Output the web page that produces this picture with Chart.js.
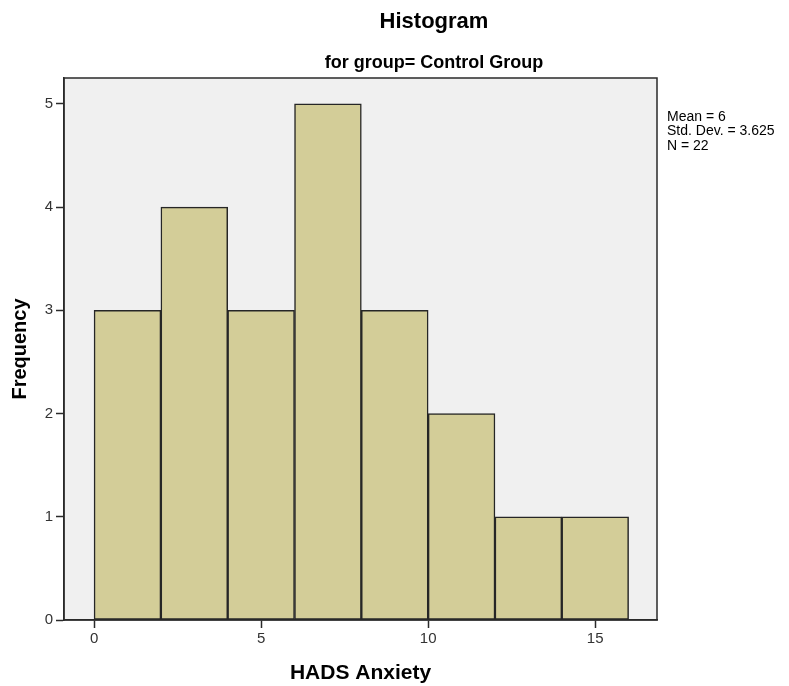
<!DOCTYPE html>
<html>
<head>
<meta charset="utf-8">
<title>Histogram</title>
<script src="https://cdn.jsdelivr.net/npm/chart.js@4.4.0/dist/chart.umd.min.js"></script>
<style>
  html, body { margin: 0; padding: 0; background: #fff; }
  #wrap { width: 789px; height: 686px; position: relative; }
</style>
</head>
<body>
<div id="wrap"><canvas id="hist"></canvas></div>
<script>
// bins of HADS Anxiety and their frequencies
const binLower = [0, 2, 4, 6, 8, 10, 12, 14];
const binUpper = [2, 4, 6, 8, 10, 12, 14, 16];
const counts = [3, 4, 3, 5, 3, 2, 1, 1];

const xTicks = [0, 5, 10, 15];
const yTicks = [0, 1, 2, 3, 4, 5];

const chartTitle = 'Histogram';
const chartSubtitle = 'for group= Control Group';
const statsLines = ['Mean = 6', 'Std. Dev. = 3.625', 'N = 22'];

const FONT = '"Liberation Sans", Arial, sans-serif';

const framePlugin = {
  id: 'frame',
  beforeDraw(chart) {
    const { ctx, chartArea: a } = chart;
    ctx.save();
    ctx.fillStyle = '#f0f0f0';
    ctx.fillRect(a.left, a.top, a.right - a.left, a.bottom - a.top);
    ctx.restore();
  },
  afterDatasetsDraw(chart) {
    const { ctx, chartArea: a } = chart;
    ctx.save();
    ctx.strokeStyle = '#2a2a2a';
    ctx.lineWidth = 1.5;
    ctx.strokeRect(a.left, a.top, a.right - a.left, a.bottom - a.top);
    ctx.restore();
  },
  afterDraw(chart) {
    const { ctx, chartArea: a } = chart;
    ctx.save();
    ctx.fillStyle = '#000';
    ctx.textAlign = 'center';
    ctx.textBaseline = 'middle';
    ctx.font = 'bold 22px ' + FONT;
    ctx.fillText(chartTitle, 434, 22);
    ctx.font = 'bold 18px ' + FONT;
    ctx.fillText(chartSubtitle, 434, 63);

    ctx.textAlign = 'left';
    ctx.font = '14px ' + FONT;
    statsLines.forEach((t, i) => ctx.fillText(t, a.right + 10, 117 + i * 14.5));
    ctx.restore();
  }
};

const ctx = document.getElementById('hist').getContext('2d');
new Chart(ctx, {
  type: 'bar',
  data: {
    datasets: [{
      label: 'Frequency',
      data: binLower.map((lo, i) => ({ x: (lo + binUpper[i]) / 2, y: counts[i] })),
      backgroundColor: '#d3cd98',
      borderColor: '#262626',
      borderWidth: 1.5,
      borderSkipped: false,
      barPercentage: 1,
      categoryPercentage: 1
    }]
  },
  options: {
    responsive: true,
    maintainAspectRatio: false,
    animation: false,
    layout: { padding: { left: 0, right: 132, top: 78, bottom: 0 } },
    plugins: {
      legend: { display: false },
      tooltip: { enabled: false }
    },
    scales: {
      x: {
        type: 'linear',
        min: -0.9,
        max: 16.85,
        offset: false,
        afterBuildTicks: s => { s.ticks = xTicks.map(v => ({ value: v })); },
        afterFit: s => { s.height = 66; },
        grid: { display: true, offset: false, drawOnChartArea: false, drawTicks: true, tickLength: 8, tickColor: '#2a2a2a', tickWidth: 1.5 },
        border: { display: true, color: '#2a2a2a', width: 1.5 },
        ticks: { color: '#333', font: { family: FONT, size: 15 }, padding: 2, maxRotation: 0 },
        title: { display: true, text: 'HADS Anxiety', color: '#000', font: { family: FONT, size: 21, weight: 'bold' }, padding: { top: 0, bottom: 0 } }
      },
      y: {
        min: 0,
        max: 5.25,
        afterBuildTicks: s => { s.ticks = yTicks.map(v => ({ value: v })); },
        afterFit: s => { s.width = 64; },
        grid: { display: true, drawOnChartArea: false, drawTicks: true, tickLength: 8, tickColor: '#2a2a2a', tickWidth: 1.5 },
        border: { display: true, color: '#2a2a2a', width: 1.5 },
        ticks: { color: '#333', font: { family: FONT, size: 15 }, padding: 3 },
        title: { display: true, text: 'Frequency', color: '#000', font: { family: FONT, size: 20, weight: 'bold' }, padding: { top: 8, bottom: 0 } }
      }
    }
  },
  plugins: [framePlugin]
});
</script>
</body>
</html>
